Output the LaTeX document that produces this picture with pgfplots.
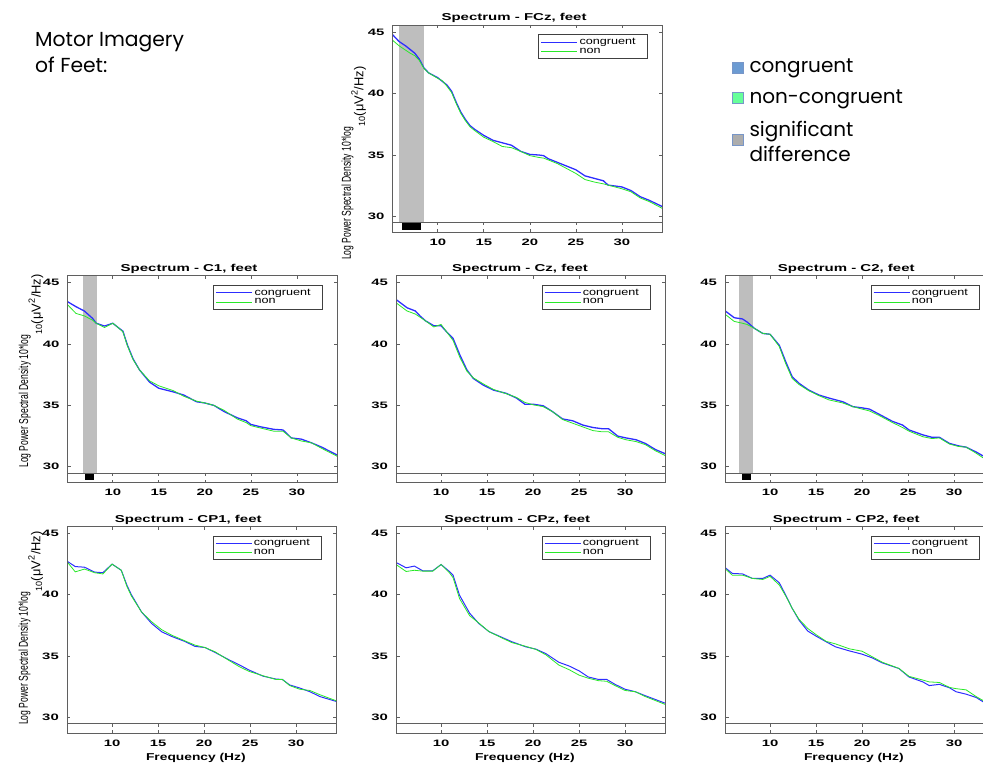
\documentclass[border=0pt]{standalone}
\usepackage{fontspec}
\setmainfont{Liberation Sans}
\newfontfamily\gothic{Poppins}
\usepackage{pgfplots}
\usepackage{pgfplotstable}
\pgfplotsset{compat=1.18}

\definecolor{cblue}{RGB}{45,45,255}
\definecolor{cgreen}{RGB}{40,232,40}
\definecolor{sigray}{RGB}{190,190,190}
\definecolor{axgray}{RGB}{95,95,95}
\definecolor{sqblue}{RGB}{108,155,210}
\definecolor{sqgreen}{RGB}{102,255,153}
\definecolor{sqgray}{RGB}{173,173,173}
\definecolor{sqedge}{RGB}{120,150,200}

\newcommand\ticklabfont{\fontsize{9.3}{9}\selectfont\bfseries}
\newcommand\titlefont{\fontsize{10}{10}\selectfont\bfseries}
\newcommand\legfont{\fontsize{9.7}{10}\selectfont}
\newcommand\ylabfont{\fontsize{8.6}{9}\selectfont}
\newcommand\xlabfont{\fontsize{10}{10}\selectfont\bfseries}
\newcommand\ttl[1]{\scalebox{1.5}[1]{\titlefont Spectrum - #1, feet}}
\newcommand\leg[1]{\scalebox{1.3}[1]{\legfont #1}}
\newcommand\ylab{\scalebox{1}[1.5]{\ylabfont Log Power Spectral Density 10*log\raisebox{-8.3pt}{\scalebox{1.5}[1]{\textsubscript{10}(μV\textsuperscript{2}/Hz)}}}}
\newcommand\flab{\scalebox{1.38}[1]{\xlabfont Frequency (Hz)}}

\pgfplotstableread{
f c n
5.1 44.8 44.35
5.8 44.25 43.9
6.5 43.9 43.55
7.0 43.6 43.3
7.5 43.3 43.1
8.0 42.8 42.7
8.5 42.1 42.05
9.0 41.7 41.7
10.0 41.3 41.25
10.5 41.0 41.05
11.0 40.7 40.6
11.5 40.2 40.1
12.0 39.3 39.2
12.5 38.5 38.4
13.0 37.9 37.8
13.5 37.4 37.3
14.0 37.1 37.0
15.0 36.6 36.45
16.0 36.2 36.1
17.0 36.0 35.7
18.0 35.8 35.6
19.0 35.3 35.3
20.0 35.05 34.95
21.0 35.0 34.8
21.5 34.95 34.75
22.0 34.7 34.6
23.0 34.4 34.3
24.0 34.1 33.9
25.0 33.8 33.5
26.0 33.3 33.0
27.0 33.1 32.8
28.0 32.9 32.65
28.5 32.55 32.55
29.0 32.5 32.45
30.0 32.4 32.25
31.0 32.1 32.0
32.0 31.6 31.5
33.0 31.3 31.2
34.4 30.8 30.65
}\FCz

\pgfplotstableread{
f c n
5.1 43.45 43.2
6.0 43.05 42.5
6.9 42.7 42.3
7.8 42.1 41.95
8.2 41.7 41.7
9.1 41.47 41.35
10.0 41.7 41.7
10.5 41.4 41.4
11.1 41.05 41.0
11.6 39.9 39.85
12.2 38.8 38.75
12.9 37.9 37.9
14.0 36.9 37.0
15.0 36.4 36.6
16.6 36.1 36.2
17.7 35.85 35.75
19.1 35.3 35.35
20.0 35.2 35.2
21.0 35.0 35.0
22.1 34.5 34.6
23.5 34.0 33.9
24.5 33.75 33.6
25.0 33.45 33.35
26.1 33.25 33.15
27.5 33.05 32.9
28.5 33.0 32.9
29.4 32.35 32.35
30.5 32.25 32.1
31.6 31.95 31.95
32.7 31.6 31.5
34.4 30.95 30.85
}\Cone

\pgfplotstableread{
f c n
5.1 43.64 43.37
6.3 42.96 42.7
7.2 42.7 42.45
7.7 42.3 42.2
8.3 41.9 41.9
9.2 41.5 41.4
10.0 41.5 41.6
10.6 41.0 41.0
11.3 40.46 40.3
12.05 39.1 38.9
12.8 37.9 37.8
13.5 37.2 37.25
14.6 36.65 36.75
15.7 36.25 36.3
17.1 35.98 35.95
18.2 35.6 35.65
19.1 35.1 35.25
20.0 35.1 35.05
21.1 34.97 34.9
22.1 34.5 34.5
23.2 33.9 33.85
24.3 33.75 33.55
25.4 33.4 33.25
26.5 33.2 32.95
27.5 33.1 32.85
28.2 33.1 32.85
29.2 32.5 32.4
30.1 32.35 32.2
31.2 32.2 32.05
32.2 31.9 31.8
33.3 31.4 31.3
34.4 31.05 30.9
}\Cz

\pgfplotstableread{
f c n
5.0 42.77 42.5
6.1 42.15 41.85
7.0 42.05 41.7
7.5 41.8 41.6
8.3 41.28 41.28
9.2 40.87 40.87
10.0 40.8 40.8
11.0 39.9 39.8
11.7 38.56 38.4
12.4 37.34 37.2
13.15 36.8 36.7
14.2 36.25 36.2
15.3 35.85 35.8
16.4 35.6 35.45
17.9 35.3 35.2
19.0 34.9 34.9
20.0 34.8 34.7
20.8 34.7 34.55
21.8 34.3 34.2
23.3 33.7 33.6
24.4 33.4 33.2
25.1 33.0 32.9
26.6 32.6 32.45
27.6 32.4 32.3
28.4 32.4 32.35
29.5 31.9 31.85
30.5 31.7 31.65
31.3 31.6 31.6
32.4 31.2 31.1
33.1 30.9 30.75
34.4 30.5 30.35
}\Ctwo

\pgfplotstableread{
f c n
5.1 42.74 42.7
6.0 42.3 41.87
7.0 42.25 42.1
8.1 41.85 41.8
9.0 41.8 41.7
10.0 42.5 42.5
11.0 42.0 42.0
11.6 40.8 40.7
12.1 40.0 39.9
13.2 38.6 38.6
14.3 37.66 37.8
15.4 36.98 37.15
16.5 36.6 36.7
17.9 36.2 36.25
19.0 35.8 35.9
20.1 35.7 35.7
21.2 35.3 35.35
22.7 34.7 34.65
23.8 34.3 34.15
24.9 33.86 33.75
26.4 33.37 33.4
27.8 33.13 33.1
28.5 33.1 33.1
29.3 32.65 32.6
30.4 32.4 32.3
31.5 32.1 32.2
32.6 31.7 31.85
34.4 31.3 31.35
}\CPone

\pgfplotstableread{
f c n
5.1 42.64 42.47
6.2 42.2 41.9
7.1 42.34 42.0
8.0 41.96 41.93
9.1 41.96 41.93
10.0 42.47 42.47
10.9 41.9 41.8
11.3 41.6 41.4
12.0 39.97 39.7
13.1 38.5 38.3
14.1 37.66 37.7
15.2 37.0 37.0
16.7 36.5 36.45
17.7 36.17 36.1
19.2 35.76 35.8
20.3 35.57 35.55
21.4 35.2 35.1
22.8 34.5 34.27
23.9 34.2 33.9
25.0 33.8 33.45
26.0 33.3 33.2
27.1 33.1 33.0
28.0 33.1 32.95
28.9 32.7 32.6
30.0 32.3 32.2
31.1 32.1 32.1
32.2 31.77 31.7
34.4 31.15 31.05
}\CPz

\pgfplotstableread{
f c n
5.0 42.28 42.2
5.9 41.74 41.6
7.0 41.7 41.6
8.1 41.33 41.33
9.2 41.33 41.25
10.0 41.6 41.5
11.0 40.98 40.8
11.7 39.97 39.9
12.4 38.9 38.9
13.15 37.93 38.0
14.1 37.04 37.25
15.0 36.63 36.75
16.1 36.17 36.2
17.1 35.76 36.0
18.6 35.43 35.6
20.0 35.16 35.4
21.1 34.86 34.95
22.2 34.45 34.5
24.0 33.99 34.0
25.1 33.3 33.35
26.6 32.9 33.05
27.3 32.6 32.9
28.4 32.7 32.85
29.5 32.42 32.45
30.2 32.1 32.35
31.3 31.9 32.25
32.4 31.63 31.7
33.1 31.3 31.4
34.4 30.9 31.0
}\CPtwo

\pgfplotsset{
  panelbase/.style={
    scale only axis, width=269.6pt, xmin=5.1, xmax=34.4,
    anchor=south west, axis on top,
    axis line style={axgray, line width=0.7pt},
    tick align=inside, major tick length=3.5pt,
    tick style={axgray, line width=0.6pt},
    xtick={10,15,20,25,30},
  },
  panelmain/.style={
    panelbase, height=197.5pt, ymin=29.5, ymax=45.6,
    ytick={30,35,40,45}, xticklabels={}, xtick pos=right,
    yticklabel={\scalebox{1.6}[1]{\ticklabfont\pgfmathparse{int(\tick)}\pgfmathresult}},
    yticklabel style={anchor=east, inner sep=0pt, xshift=-8pt},
    title style={at={(rel axis cs:0.45,1)}, anchor=base, yshift=-2pt, inner sep=0pt},
    ylabel style={anchor=base west, inner sep=0pt},
    legend style={at={(rel axis cs:0.945,0.952)}, anchor=north east,
      draw=black!75, line width=0.6pt, inner xsep=2pt, inner ysep=2.6pt,
      row sep=0pt, nodes={inner xsep=1.5pt, inner ysep=1pt}},
    legend cell align=left,
    legend image code/.code={\draw[##1, line cap=butt] (0pt,0pt) -- (36pt,0pt);},
  },
  panelstrip/.style={
    panelbase, height=9.8pt, ymin=28.7, ymax=29.5, ytick=\empty,
    major tick length=3pt,
    xticklabel={\scalebox{1.6}[1]{\ticklabfont\pgfmathparse{int(\tick)}\pgfmathresult}},
    xticklabel style={anchor=center, inner sep=0pt, yshift=-10pt},
    xlabel style={at={(rel axis cs:0.478,0)}, anchor=center, yshift=-25pt, inner sep=0pt},
  },
  cong/.style={color=cblue, draw=cblue, line width=#1},
  ncong/.style={color=cgreen, draw=cgreen, line width=0.8pt},
}

\begin{document}
\begin{tikzpicture}[x=1pt,y=1pt]
\path[use as bounding box] (0,0) rectangle (983,764);
\clip (0,0) rectangle (983,764);

% ---------- annotations ----------
\node[anchor=base west, inner sep=0pt] at (35,717.3) {\gothic\fontsize{20.3}{20}\selectfont Motor Imagery};
\node[anchor=base west, inner sep=0pt] at (35,691.3) {\gothic\fontsize{20.3}{20}\selectfont of Feet:};

\node[draw=sqedge, fill=sqblue, line width=0.7pt, minimum size=11pt, inner sep=0pt] at (738.3,696.5) {};
\node[draw=sqedge, fill=sqgreen, line width=0.7pt, minimum size=11pt, inner sep=0pt] at (738.3,666.2) {};
\node[draw=sqedge, fill=sqgray, line width=0.7pt, minimum size=11pt, inner sep=0pt] at (738.3,624) {};
\node[anchor=base west, inner sep=0pt] at (749.3,691.7) {\gothic\fontsize{20}{20}\selectfont congruent};
\node[anchor=base west, inner sep=0pt] at (749.3,660.7) {\gothic\fontsize{20}{20}\selectfont non-congruent};
\node[anchor=base west, inner sep=0pt] at (749.3,627.3) {\gothic\fontsize{20}{20}\selectfont significant};
\node[anchor=base west, inner sep=0pt] at (749.3,602.3) {\gothic\fontsize{20}{20}\selectfont difference};

% ---------- FCz ----------
\begin{axis}[panelmain, at={(392.7pt,541.5pt)}, title={\ttl{FCz}},
  ylabel={\ylab}, ylabel style={at={(rel axis cs:-0.1547,-0.19)}}]
\addplot[fill=sigray, draw=none, forget plot] coordinates {(5.83,29.5) (8.54,29.5) (8.54,45.6) (5.83,45.6)};
\addplot[cong=1.3pt] table[x=f,y=c]{\FCz};
\addlegendentry{\leg{congruent}\hspace*{8pt}}
\addplot[ncong] table[x=f,y=n]{\FCz};
\addlegendentry{\leg{non}}
\end{axis}
\begin{axis}[panelstrip, at={(392.7pt,531.7pt)}]
\addplot[fill=black, draw=none] coordinates {(6.15,28.9) (8.2,28.9) (8.2,29.5) (6.15,29.5)};
\end{axis}

% ---------- C1 ----------
\begin{axis}[panelmain, at={(67.7pt,291.1pt)}, title={\ttl{C1}},
  ylabel={\ylab}, ylabel style={at={(rel axis cs:-0.147,0.025)}}]
\addplot[fill=sigray, draw=none, forget plot] coordinates {(6.75,29.5) (8.29,29.5) (8.29,45.6) (6.75,45.6)};
\addplot[cong=1.3pt] table[x=f,y=c]{\Cone};
\addlegendentry{\leg{congruent}\hspace*{8pt}}
\addplot[ncong] table[x=f,y=n]{\Cone};
\addlegendentry{\leg{non}}
\end{axis}
\begin{axis}[panelstrip, at={(67.7pt,281.3pt)}]
\addplot[fill=black, draw=none] coordinates {(7.0,28.9) (8.0,28.9) (8.0,29.5) (7.0,29.5)};
\end{axis}

% ---------- Cz ----------
\begin{axis}[panelmain, at={(396pt,291.1pt)}, title={\ttl{Cz}}, title style={at={(rel axis cs:0.46,1)}}]
\addplot[cong=1.3pt] table[x=f,y=c]{\Cz};
\addlegendentry{\leg{congruent}\hspace*{8pt}}
\addplot[ncong] table[x=f,y=n]{\Cz};
\addlegendentry{\leg{non}}
\end{axis}
\begin{axis}[panelstrip, at={(396pt,281.3pt)}]
\end{axis}

% ---------- C2 ----------
\begin{axis}[panelmain, at={(725pt,291.1pt)}, title={\ttl{C2}}]
\addplot[fill=sigray, draw=none, forget plot] coordinates {(6.6,29.5) (8.15,29.5) (8.15,45.6) (6.6,45.6)};
\addplot[cong=1.3pt] table[x=f,y=c]{\Ctwo};
\addlegendentry{\leg{congruent}\hspace*{8pt}}
\addplot[ncong] table[x=f,y=n]{\Ctwo};
\addlegendentry{\leg{non}}
\end{axis}
\begin{axis}[panelstrip, at={(725pt,281.3pt)}]
\addplot[fill=black, draw=none] coordinates {(6.96,28.9) (7.93,28.9) (7.93,29.5) (6.96,29.5)};
\end{axis}

% ---------- CP1 ----------
\begin{axis}[panelmain, at={(67pt,40.4pt)}, title={\ttl{CP1}},
  ylabel={\ylab}, ylabel style={at={(rel axis cs:-0.145,-0.007)}}]
\addplot[cong=1pt] table[x=f,y=c]{\CPone};
\addlegendentry{\leg{congruent}\hspace*{8pt}}
\addplot[ncong] table[x=f,y=n]{\CPone};
\addlegendentry{\leg{non}}
\end{axis}
\begin{axis}[panelstrip, at={(67pt,30.6pt)}, xlabel={\flab}]
\end{axis}

% ---------- CPz ----------
\begin{axis}[panelmain, at={(396pt,40.4pt)}, title={\ttl{CPz}}]
\addplot[cong=1pt] table[x=f,y=c]{\CPz};
\addlegendentry{\leg{congruent}\hspace*{8pt}}
\addplot[ncong] table[x=f,y=n]{\CPz};
\addlegendentry{\leg{non}}
\end{axis}
\begin{axis}[panelstrip, at={(396pt,30.6pt)}, xlabel={\flab}]
\end{axis}

% ---------- CP2 ----------
\begin{axis}[panelmain, at={(725pt,40.4pt)}, title={\ttl{CP2}}]
\addplot[cong=1pt] table[x=f,y=c]{\CPtwo};
\addlegendentry{\leg{congruent}\hspace*{8pt}}
\addplot[ncong] table[x=f,y=n]{\CPtwo};
\addlegendentry{\leg{non}}
\end{axis}
\begin{axis}[panelstrip, at={(725pt,30.6pt)}, xlabel={\flab}]
\end{axis}

\end{tikzpicture}
\end{document}
